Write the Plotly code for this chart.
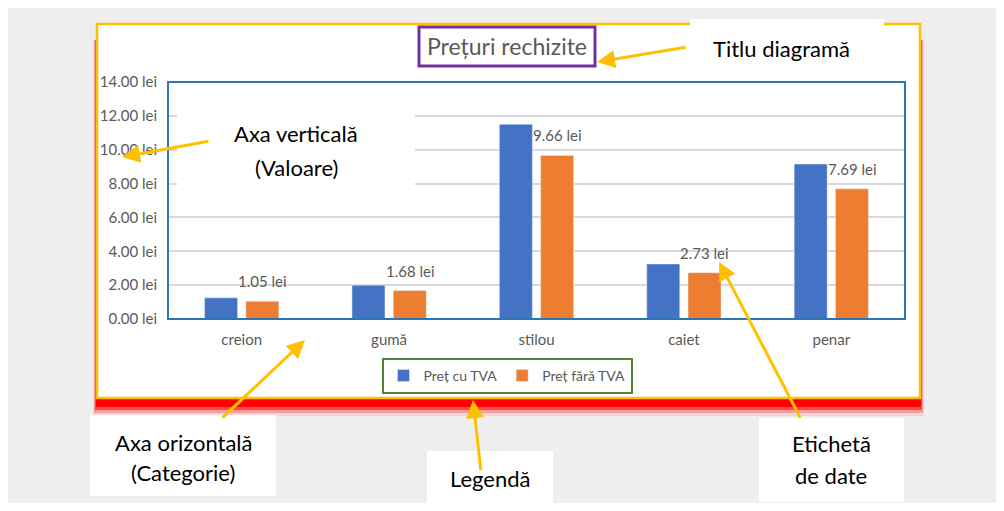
import plotly.graph_objects as go

categorii = ["creion", "gumă", "stilou", "caiet", "penar"]
pret_cu_tva = [1.25, 2.00, 11.50, 3.25, 9.15]
pret_fara_tva = [1.05, 1.68, 9.66, 2.73, 7.69]

# pagina are o margine de 8px in jurul graficului
OFF = 8
W, H = 1004 - 2 * OFF, 511 - 2 * OFF
# zona de desenare (pixeli in fereastra)
PL, PR, PT, PB = 168, 905, 82, 319

FONT = "Lato, 'Open Sans', sans-serif"
GRI = "#595959"
GALBEN = "#ffc000"


def px_x(p):
    return (p - PL) / (PR - PL)


def px_y(p):
    return (PB - p) / (PB - PT)


def dreptunghi(x0, y0, x1, y1, **kw):
    return dict(type="rect", xref="paper", yref="paper",
                x0=px_x(x0), x1=px_x(x1), y0=px_y(y1), y1=px_y(y0), **kw)


fig = go.Figure()

fig.add_trace(go.Bar(
    x=categorii, y=pret_cu_tva, name="Preț cu TVA",
    marker_color="#4472c4",
))
fig.add_trace(go.Bar(
    x=categorii, y=pret_fara_tva, name="Preț fără TVA",
    marker_color="#ed7d31",
))

shapes = [
    # umbra rosie + suprafata diagramei
    dreptunghi(93, 40, 924, 416, fillcolor="rgba(255,0,0,0.1)", line_width=0, layer="below"),
    dreptunghi(94, 40, 923, 413, fillcolor="rgba(255,0,0,0.25)", line_width=0, layer="below"),
    dreptunghi(95, 40, 922, 410, fillcolor="rgba(255,0,0,0.55)", line_width=0, layer="below"),
    dreptunghi(96, 40, 921, 407, fillcolor="#ff0000", line_width=0, layer="below"),
    dreptunghi(97, 24, 920, 398, fillcolor="white", line=dict(color=GALBEN, width=2.5), layer="below"),
    # chenar zona de desenare
    dict(type="rect", xref="paper", yref="paper", x0=0, x1=1, y0=0, y1=1,
         line=dict(color="#2e75b6", width=2), layer="above"),
    # chenar titlu
    dreptunghi(419, 27, 595, 66, line=dict(color="#7030a0", width=3), layer="above"),
    # casete albe pentru explicatii
    dreptunghi(690, 19, 884, 76, fillcolor="white", line_width=0, layer="above"),
    dreptunghi(177, 93, 415, 195, fillcolor="white", line_width=0, layer="above"),
    dreptunghi(90, 415, 276, 496, fillcolor="white", line_width=0, layer="above"),
    dreptunghi(427, 451, 553, 511, fillcolor="white", line_width=0, layer="above"),
    dreptunghi(759, 418, 904, 502, fillcolor="white", line_width=0, layer="above"),
]

etichete = [
    ("Titlu diagramă", 781, 49),
    ("Axa verticală", 296, 133),
    ("(Valoare)", 296, 167),
    ("Axa orizontală", 183, 442),
    ("(Categorie)", 183, 472),
    ("Legendă", 490, 478),
    ("Etichetă", 831, 443),
    ("de date", 831, 475),
]

# (varf, coada) in pixeli
sageti = [
    ((597, 62), (687, 47)),
    ((122, 157), (210, 141)),
    ((305, 340), (221, 419)),
    ((473, 400), (481, 472)),
    ((719, 262), (801, 419)),
]

annotations = []
# etichete de date doar pe seria fara TVA, deasupra barei portocalii
for cat, val in zip(categorii, pret_fara_tva):
    annotations.append(dict(
        text=f"{val:.2f} lei", xref="x", yref="y", x=cat, y=val,
        xshift=21, yshift=9, xanchor="center", yanchor="bottom", showarrow=False,
        font=dict(family=FONT, size=15, color=GRI),
    ))
for text, x, y in etichete:
    annotations.append(dict(
        text=text, xref="paper", yref="paper", x=px_x(x), y=px_y(y),
        xanchor="center", yanchor="middle", showarrow=False,
        font=dict(family=FONT, size=22, color="black"),
    ))
for (vx, vy), (cx, cy) in sageti:
    annotations.append(dict(
        text="", xref="paper", yref="paper", x=px_x(vx), y=px_y(vy),
        ax=cx - vx, ay=cy - vy, showarrow=True,
        arrowhead=2, arrowsize=1.2, arrowwidth=3, arrowcolor=GALBEN, standoff=0,
    ))

fig.update_layout(
    width=W, height=H,
    margin=dict(l=PL - OFF, r=W + OFF - PR, t=PT - OFF, b=H + OFF - PB),
    paper_bgcolor="#eeeeee",
    plot_bgcolor="white",
    barmode="group", bargap=0.44, bargroupgap=0.2,
    font=dict(family=FONT, color=GRI),
    title=dict(
        text="Prețuri rechizite", xref="container", yref="container",
        x=(507 - OFF) / W, y=1 - (47 - OFF) / H, xanchor="center", yanchor="middle",
        font=dict(family=FONT, size=23, color=GRI),
    ),
    legend=dict(
        orientation="h", xref="paper", yref="paper",
        x=px_x(507), y=px_y(376), xanchor="center", yanchor="middle",
        bordercolor="#548235", borderwidth=2, bgcolor="white",
        font=dict(family=FONT, size=14, color=GRI),
    ),
    shapes=shapes,
    annotations=annotations,
)

fig.update_yaxes(
    range=[0, 14], dtick=2, tickformat=".2f", ticksuffix=" lei",
    showgrid=True, gridcolor="#d9d9d9", gridwidth=1.5, zeroline=False,
    ticklabelstandoff=10, tickfont=dict(family=FONT, size=15, color=GRI),
)
fig.update_xaxes(
    showgrid=False, ticklabelstandoff=10,
    tickfont=dict(family=FONT, size=15, color=GRI),
)

fig.write_html("out.html")
